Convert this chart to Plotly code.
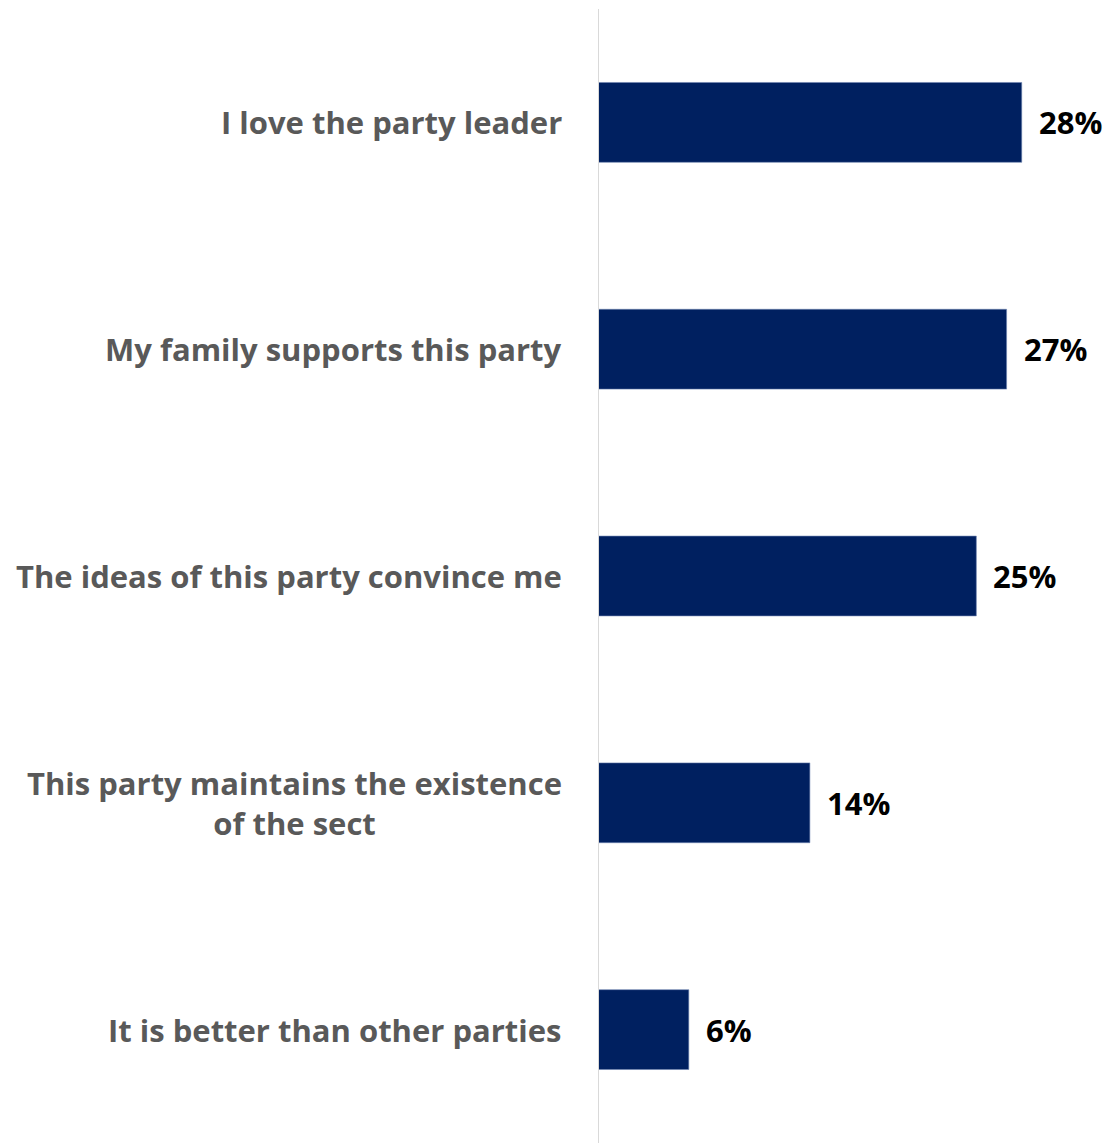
import plotly.graph_objects as go

# Reasons for supporting the party (share of respondents, %)
reasons = [
    "I love the party leader",
    "My family supports this party",
    "The ideas of this party convince me",
    "This party maintains the existence<br>of the sect",
    "It is better than other parties",
]
shares = [28, 27, 25, 14, 6]
share_labels = ["28%", "27%", "25%", "14%", "6%"]

BAR_COLOR = "#002060"
LABEL_FONT = "Open Sans"

fig = go.Figure(
    go.Bar(
        x=shares,
        y=reasons,
        orientation="h",
        marker=dict(color=BAR_COLOR, line=dict(color="#6f84b0", width=0.6)),
        hoverinfo="skip",
    )
)

# Category labels, right-aligned against the axis, lines centred
for r in reasons:
    fig.add_annotation(
        x=0, y=r, xref="x", yref="y",
        text=r, showarrow=False,
        xanchor="right", yanchor="middle", align="center",
        xshift=-34,
        font=dict(family=LABEL_FONT, size=31, color="#595959", weight="bold"),
    )

# Value labels at the end of each bar
for r, v, t in zip(reasons, shares, share_labels):
    fig.add_annotation(
        x=v, y=r, xref="x", yref="y",
        text=t, showarrow=False,
        xanchor="left", yanchor="middle",
        xshift=15,
        font=dict(family=LABEL_FONT, size=31, color="#000000", weight="bold"),
    )

fig.update_layout(
    width=1113,
    height=1143,
    margin=dict(l=598, r=61, t=9, b=0),
    paper_bgcolor="white",
    plot_bgcolor="white",
    showlegend=False,
    bargap=0.648,
    xaxis=dict(
        range=[0, 30],
        visible=False,
        fixedrange=True,
    ),
    yaxis=dict(
        autorange="reversed",
        showticklabels=False,
        ticks="",
        showgrid=False,
        zeroline=False,
        showline=False,
        fixedrange=True,
    ),
    shapes=[
        dict(
            type="line", xref="x", yref="paper",
            x0=0, x1=0, y0=0, y1=1,
            line=dict(color="#d9d9d9", width=2),
            layer="above",
        )
    ],
)

fig.write_html("out.html", config={"displayModeBar": False})
